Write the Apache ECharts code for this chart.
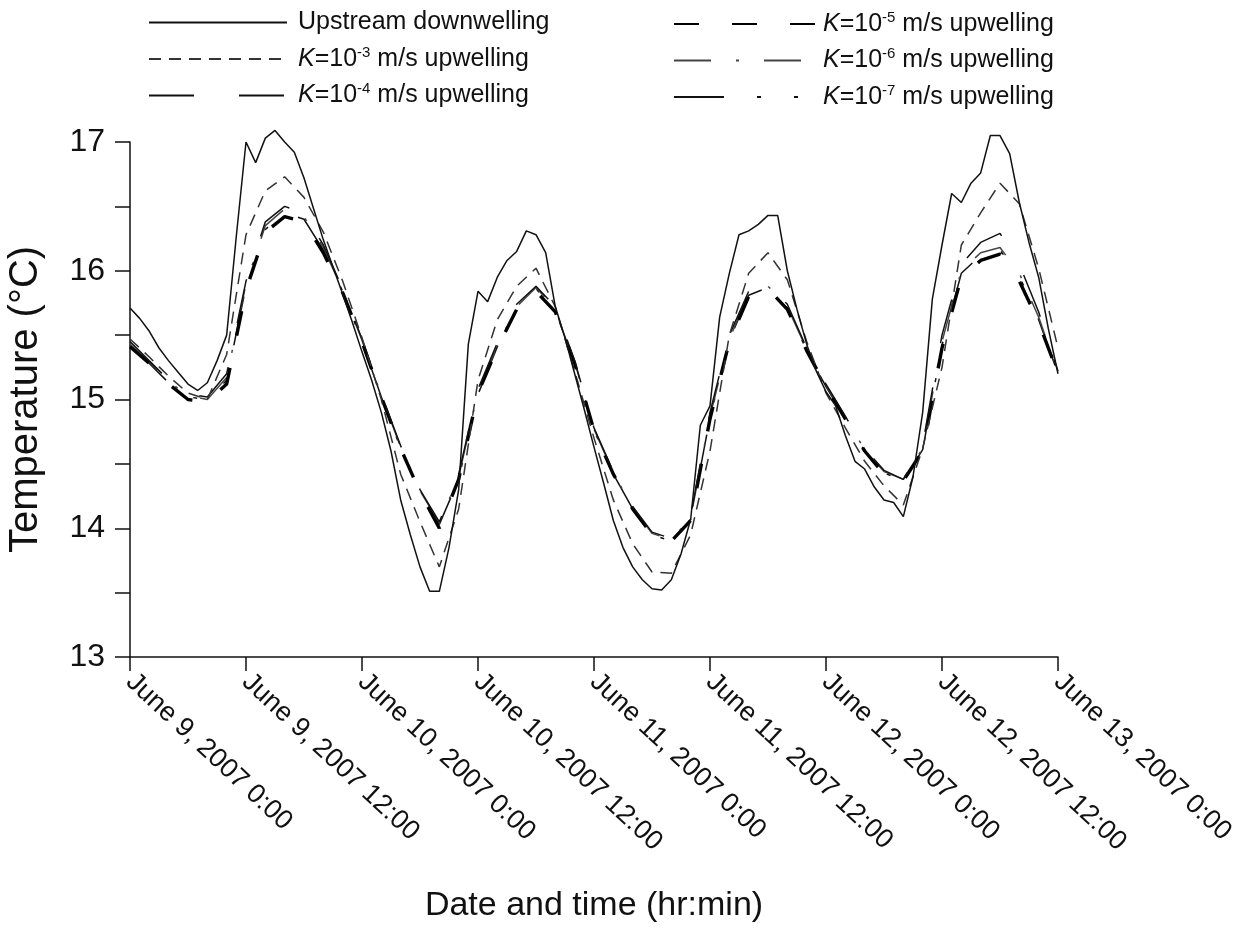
<!DOCTYPE html>
<html>
<head>
<meta charset="utf-8">
<script src="https://cdn.jsdelivr.net/npm/echarts@6/dist/echarts.min.js"></script>
<style>
html,body{margin:0;padding:0;background:#fff;}
#chart{width:1258px;height:935px;}
</style>
</head>
<body>
<div id="chart"></div>
<script>
// Hours since June 9, 2007 0:00
const hoursUp = [0,1,2,3,4,5,6,7,8,9,10,11,12,13,14,15,16,17,18,19,20,21,22,23,24,25,26,27,28,29,30,31,32,33,34,35,36,37,38,39,40,41,42,43,44,45,46,47,48,49,50,51,52,53,54,55,56,57,58,59,60,61,62,63,64,65,66,67,68,69,70,71,72,73,74,75,76,77,78,79,80,81,82,83,84,85,86,87,88,89,90,91,92,93,94,95,96];
const hoursK = [0,2,4,6,8,10,12,14,16,18,20,22,24,26,28,30,32,34,36,38,40,42,44,46,48,50,52,54,56,58,60,62,64,66,68,70,72,74,76,78,80,82,84,86,88,90,92,94,96];

const upstream = [15.71,15.63,15.53,15.40,15.30,15.21,15.12,15.07,15.13,15.30,15.50,16.27,17.00,16.84,17.03,17.09,17.00,16.92,16.72,16.48,16.24,16.03,15.82,15.60,15.37,15.15,14.90,14.60,14.22,13.95,13.70,13.51,13.51,13.85,14.30,15.43,15.84,15.76,15.95,16.08,16.15,16.31,16.28,16.14,15.72,15.48,15.20,14.92,14.63,14.35,14.06,13.85,13.70,13.60,13.53,13.52,13.60,13.80,14.07,14.80,14.95,15.64,15.98,16.28,16.31,16.36,16.43,16.43,16.00,15.70,15.43,15.22,15.06,14.95,14.72,14.52,14.46,14.32,14.22,14.20,14.09,14.40,14.90,15.78,16.20,16.60,16.53,16.68,16.76,17.05,17.05,16.91,16.53,16.22,15.95,15.55,15.20];
const k3 = [15.47,15.33,15.18,15.05,15.00,15.35,16.28,16.62,16.73,16.57,16.30,15.92,15.48,15.00,14.42,14.05,13.70,14.15,15.15,15.62,15.88,16.02,15.72,15.22,14.70,14.22,13.88,13.66,13.65,13.95,14.60,15.50,15.98,16.14,15.93,15.45,15.05,14.78,14.52,14.33,14.18,14.62,15.25,16.20,16.45,16.68,16.52,16.02,15.40];
const k4 = [15.45,15.30,15.15,15.04,15.02,15.20,15.92,16.38,16.50,16.45,16.20,15.86,15.47,15.04,14.64,14.30,14.05,14.42,15.08,15.44,15.74,15.88,15.72,15.30,14.78,14.44,14.17,13.97,13.92,14.10,14.90,15.50,15.84,15.89,15.74,15.40,15.12,14.87,14.62,14.45,14.38,14.65,15.50,16.05,16.22,16.29,16.05,15.68,15.22];
const k5 = [15.41,15.28,15.12,15.00,14.98,15.12,15.85,16.30,16.42,16.38,16.14,15.83,15.45,15.02,14.62,14.28,14.00,14.38,15.05,15.40,15.70,15.84,15.68,15.28,14.76,14.42,14.15,13.95,13.90,14.06,14.85,15.45,15.80,15.86,15.70,15.38,15.10,14.85,14.60,14.42,14.37,14.60,15.40,15.95,16.08,16.13,15.92,15.60,15.20];
const k6 = [15.43,15.29,15.14,15.03,15.00,15.17,15.90,16.35,16.48,16.42,16.18,15.85,15.46,15.03,14.63,14.29,14.04,14.40,15.06,15.42,15.72,15.87,15.70,15.29,14.77,14.43,14.16,13.96,13.91,14.08,14.87,15.47,15.82,15.88,15.72,15.39,15.11,14.86,14.61,14.44,14.38,14.62,15.45,16.00,16.14,16.18,15.98,15.64,15.21];
const k7 = [15.42,15.28,15.13,15.02,15.00,15.15,15.88,16.32,16.45,16.40,16.16,15.84,15.45,15.02,14.62,14.28,14.03,14.38,15.04,15.41,15.71,15.86,15.69,15.28,14.76,14.42,14.15,13.95,13.90,14.07,14.86,15.46,15.81,15.87,15.71,15.38,15.10,14.85,14.60,14.43,14.37,14.61,15.42,15.98,16.12,16.16,15.96,15.62,15.20];

const xTickLabels = ['June 9, 2007 0:00','June 9, 2007 12:00','June 10, 2007 0:00','June 10, 2007 12:00','June 11, 2007 0:00','June 11, 2007 12:00','June 12, 2007 0:00','June 12, 2007 12:00','June 13, 2007 0:00'];
const seriesNames = ['Upstream downwelling','K=10-3 m/s upwelling','K=10-4 m/s upwelling','K=10-5 m/s upwelling','K=10-6 m/s upwelling','K=10-7 m/s upwelling'];

const FONT = 'Liberation Sans, Arial, sans-serif';
function pairs(h, v){ return h.map((x,i)=>[x, v[i]]); }

const styles = [
  {color:'#111', width:1.5, type:'solid'},
  {color:'#333', width:1.5, type:[12,8]},
  {color:'#111', width:1.5, type:[45,45]},
  {color:'#000', width:3.4, type:[25,33]},
  {color:'#444', width:1.5, type:[37,25,3,25]},
  {color:'#111', width:1.5, type:[50,33,4,33,4,36]}
];
const dataSets = [pairs(hoursUp, upstream), pairs(hoursK,k3), pairs(hoursK,k4), pairs(hoursK,k5), pairs(hoursK,k6), pairs(hoursK,k7)];

const series = seriesNames.map((n,i)=>({
  name:n, type:'line', data:dataSets[i], symbol:'none', smooth:false, clip:false,
  lineStyle:{color:styles[i].color, width:styles[i].width, type:styles[i].type},
  itemStyle:{color:styles[i].color}, z: 10-i, animation:false
}));

function legendFmt(name){
  if(name.indexOf('K=')===0){
    const exp = name.substring(4, name.indexOf(' '));
    return '{i|K}{n|=10}{s|' + exp + '}{n| m/s upwelling}';
  }
  return '{n|' + name + '}';
}
const LFS = 25;
const rich = {
  n:{fontSize:LFS, fontFamily:FONT, color:'#111', lineHeight:28},
  i:{fontSize:LFS, fontFamily:FONT, color:'#111', fontStyle:'italic', lineHeight:28},
  s:{fontSize:15, fontFamily:FONT, color:'#111', verticalAlign:'top', lineHeight:15}
};
const legendCommon = {orient:'vertical', itemHeight:14, itemGap:10, selectedMode:false,
  itemStyle:{opacity:0}, formatter:legendFmt};

const chart = echarts.init(document.getElementById('chart'), null, {renderer:'canvas'});
chart.setOption({
  backgroundColor:'#fff',
  animation:false,
  legend:[
    Object.assign({data:seriesNames.slice(0,3), left:143, top:5, itemWidth:138,
     textStyle:{fontSize:LFS, fontFamily:FONT, color:'#111', rich:rich, padding:[0,0,0,6]}}, legendCommon),
    Object.assign({data:seriesNames.slice(3,6), left:668, top:5, itemWidth:142,
     textStyle:{fontSize:LFS, fontFamily:FONT, color:'#111', rich:rich, padding:[0,0,0,2]}}, legendCommon)
  ],
  grid:{left:130, right:200, top:142, bottom:278, containLabel:false, outerBoundsMode:'none'},
  xAxis:{
    type:'value', min:0, max:96, interval:12,
    name:'Date and time (hr:min)', nameLocation:'middle', nameGap:232,
    nameTextStyle:{fontSize:34, fontFamily:FONT, color:'#111'},
    axisLine:{show:true, lineStyle:{color:'#111', width:1.5}},
    axisTick:{show:true, inside:false, length:14, lineStyle:{color:'#111', width:1.5}},
    splitLine:{show:false},
    axisLabel:{rotate:-43, fontSize:27, fontFamily:FONT, color:'#111', margin:21,
      formatter:(v)=>xTickLabels[Math.round(v/12)]}
  },
  yAxis:{
    type:'value', min:13, max:17, interval:1,
    name:'Temperature (°C)', nameLocation:'middle', nameGap:84, nameRotate:90,
    nameTextStyle:{fontSize:40, fontFamily:FONT, color:'#111'},
    axisLine:{show:true, lineStyle:{color:'#111', width:1.5}},
    axisTick:{show:true, inside:false, length:15, lineStyle:{color:'#111', width:1.5}},
    minorTick:{show:true, splitNumber:2, length:15, lineStyle:{color:'#111', width:1.5}},
    splitLine:{show:false},
    axisLabel:{fontSize:32, fontFamily:FONT, color:'#111', margin:25}
  },
  series:series
});
</script>
</body>
</html>
